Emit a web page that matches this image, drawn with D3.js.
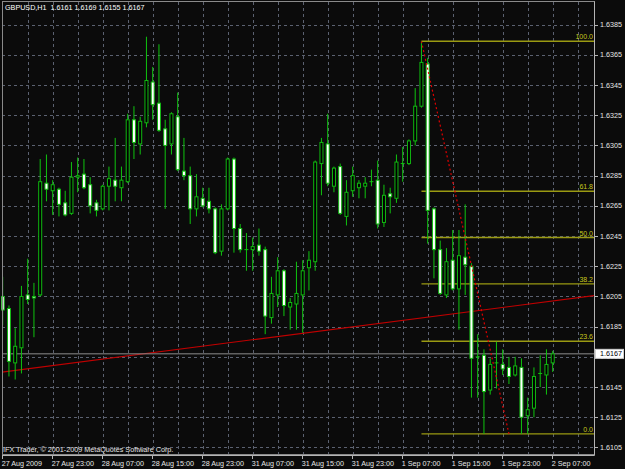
<!DOCTYPE html>
<meta charset="utf-8">
<script src="https://cdnjs.cloudflare.com/ajax/libs/d3/7.8.5/d3.min.js"></script>
<style>
body {
  margin: 0;
  background-color: #0b0b0b;
}
svg {
  display: block;
  font-family: "Liberation Sans", Arial, sans-serif;
}
</style>
<body>
<svg id="chart" width="625" height="469"></svg>
<script>

// GBPUSD H1, bars from 27 Aug 15:00 to 2 Sep 07:00
var opens = [1.6205,1.6197,1.6161,1.6171,1.6206,1.6205,1.6206,1.6280,1.6275,1.6276,
  1.6267,1.6260,1.6284,1.6286,1.6279,1.6267,1.6263,1.6278,1.6282,1.6277,
  1.6281,1.6322,1.6306,1.6320,1.6347,1.6333,1.6316,1.6306,1.6324,1.6288,
  1.6285,1.6263,1.6270,1.6268,1.6263,1.6235,1.6263,1.6296,1.6250,1.6236,
  1.6236,1.6239,1.6236,1.6191,1.6206,1.6222,1.6198,1.6200,1.6206,1.6224,
  1.6228,1.6293,1.6306,1.6278,1.6291,1.6258,1.6275,1.6277,1.6278,1.6281,
  1.6282,1.6254,1.6273,1.6270,1.6293,1.6293,1.6308,1.6331,1.6359,1.6263,
  1.6236,1.6206,1.6229,1.6210,1.6231,1.6225,1.6165,1.6166,1.6143,1.6161,
  1.6160,1.6158,1.6153,1.6158,1.6126,1.6131,1.6154,1.6153,1.6161];
var highs = [1.6218,1.6199,1.6184,1.6212,1.6230,1.6214,1.6296,1.6299,1.6282,1.6277,
  1.6275,1.6294,1.6297,1.6296,1.6284,1.6269,1.6279,1.6291,1.6310,1.6291,
  1.6326,1.6331,1.6324,1.6377,1.6357,1.6372,1.6322,1.6327,1.6340,1.6310,
  1.6291,1.6286,1.6277,1.6277,1.6264,1.6266,1.6297,1.6297,1.6253,1.6247,
  1.6244,1.6250,1.6238,1.6218,1.6231,1.6223,1.6204,1.6228,1.6229,1.6235,
  1.6295,1.6310,1.6326,1.6291,1.6293,1.6282,1.6291,1.6282,1.6284,1.6289,
  1.6295,1.6279,1.6277,1.6299,1.6304,1.6309,1.6343,1.6374,1.6363,1.6264,
  1.6242,1.6237,1.6249,1.6249,1.6266,1.6227,1.6180,1.6170,1.6164,1.6175,
  1.6170,1.6165,1.6165,1.6164,1.6138,1.6158,1.6166,1.6170,1.6169];
var lows = [1.6186,1.6152,1.6150,1.6154,1.6200,1.6178,1.6205,1.6268,1.6259,1.6258,
  1.6258,1.6259,1.6274,1.6276,1.6260,1.6258,1.6262,1.6262,1.6268,1.6268,
  1.6280,1.6296,1.6299,1.6317,1.6322,1.6314,1.6263,1.6299,1.6288,1.6282,
  1.6253,1.6258,1.6264,1.6260,1.6233,1.6232,1.6262,1.6234,1.6234,1.6222,
  1.6222,1.6232,1.6180,1.6187,1.6198,1.6192,1.6183,1.6183,1.6181,1.6209,
  1.6222,1.6272,1.6278,1.6274,1.6259,1.6252,1.6271,1.6270,1.6270,1.6278,
  1.6250,1.6251,1.6260,1.6267,1.6281,1.6292,1.6305,1.6330,1.6240,1.6217,
  1.6206,1.6204,1.6209,1.6183,1.6206,1.6138,1.6138,1.6114,1.6140,1.6144,
  1.6153,1.6147,1.6152,1.6114,1.6114,1.6125,1.6145,1.6140,1.6155];
var closes = [1.6196,1.6162,1.6172,1.6205,1.6203,1.6204,1.6281,1.6276,1.6279,1.6266,
  1.6259,1.6284,1.6285,1.6277,1.6265,1.6262,1.6278,1.6283,1.6278,1.6282,
  1.6322,1.6307,1.6321,1.6348,1.6332,1.6315,1.6305,1.6326,1.6289,1.6285,
  1.6263,1.6271,1.6265,1.6263,1.6234,1.6263,1.6296,1.6250,1.6236,1.6236,
  1.6238,1.6235,1.6192,1.6207,1.6222,1.6199,1.6201,1.6207,1.6222,1.6229,
  1.6294,1.6307,1.6280,1.6290,1.6260,1.6274,1.6285,1.6280,1.6280,1.6281,
  1.6253,1.6272,1.6271,1.6294,1.6293,1.6308,1.6331,1.6360,1.6262,1.6236,
  1.6207,1.6228,1.6210,1.6232,1.6226,1.6164,1.6165,1.6142,1.6160,1.6161,
  1.6157,1.6152,1.6159,1.6125,1.6130,1.6152,1.6154,1.6160,1.6167];

var priceTicks = [1.6385,1.6365,1.6345,1.6325,1.6305,1.6285,1.6265,1.6245,
  1.6225,1.6205,1.6185,1.6165,1.6145,1.6125,1.6105];
var timeBars = [0,8,16,24,32,40,48,56,64,72,80,88];
var timeLabels = ["27 Aug 2009","27 Aug 23:00","28 Aug 07:00","28 Aug 15:00",
  "28 Aug 23:00","31 Aug 07:00","31 Aug 15:00","31 Aug 23:00",
  "1 Sep 07:00","1 Sep 15:00","1 Sep 23:00","2 Sep 07:00"];

// fibonacci retracement, high of 1 Sep 06:00 down to the low
var fibBars = [67, 81];
var fibPrices = [1.6374, 1.6114];
var fibLevels = [0, 0.236, 0.382, 0.5, 0.618, 1];
var fibLabels = ["0.0", "23.6", "38.2", "50.0", "61.8", "100.0"];

// trend line
var trendBars = [0, 88];
var trendPrices = [1.6155, 1.6202];

var lastPrice = 1.6167;

// plot frame (px)
var fLeft = 2, fRight = 594, fTop = 2, fBottom = 455;

var svg = d3.select('#chart');

var x = d3.scaleLinear().domain([0, 88]).range([2.7, 552.7]);
var y = d3.scaleLinear().domain([1.6100, 1.6400]).range([fBottom, fTop]);

svg.append('rect')
  .attr('width', 625).attr('height', 469)
  .attr('fill', '#0b0b0b');

svg.append('clipPath').attr('id', 'plot')
  .append('rect')
  .attr('x', fLeft - 1).attr('y', fTop)
  .attr('width', fRight - fLeft + 1).attr('height', fBottom - fTop);

var plot = svg.append('g').attr('clip-path', 'url(#plot)');

// grid
var gridColor = '#5b6170';
plot.selectAll('.hgrid').data(priceTicks).enter().append('line')
  .attr('x1', fLeft).attr('x2', fRight)
  .attr('y1', function(d) { return Math.round(y(d)) + 0.5; })
  .attr('y2', function(d) { return Math.round(y(d)) + 0.5; })
  .attr('stroke', gridColor)
  .attr('stroke-dasharray', '3,3');

var vBars = d3.range(4, 95, 4);
plot.selectAll('.vgrid').data(vBars).enter().append('line')
  .attr('x1', function(d) { return Math.round(x(d)) + 0.5; })
  .attr('x2', function(d) { return Math.round(x(d)) + 0.5; })
  .attr('y1', fTop).attr('y2', fBottom)
  .attr('stroke', gridColor)
  .attr('stroke-dasharray', '3,3');

// trend line, extended to the right edge
var tSlope = (trendPrices[1] - trendPrices[0]) / (trendBars[1] - trendBars[0]);
var tStart = x.invert(fLeft), tEnd = x.invert(fRight);
plot.append('line')
  .attr('x1', x(tStart)).attr('y1', y(trendPrices[0] + tSlope * (tStart - trendBars[0])))
  .attr('x2', x(tEnd)).attr('y2', y(trendPrices[0] + tSlope * (tEnd - trendBars[0])))
  .attr('stroke', '#c00000')
  .attr('stroke-width', 1.2);

// fibo levels
var fibLow = fibPrices[1], fibRange = fibPrices[0] - fibPrices[1];
plot.selectAll('.fib').data(fibLevels).enter().append('line')
  .attr('x1', x(fibBars[0])).attr('x2', fRight)
  .attr('y1', function(d) { return y(fibLow + d * fibRange); })
  .attr('y2', function(d) { return y(fibLow + d * fibRange); })
  .attr('stroke', '#9a9a12')
  .attr('stroke-width', 1.4);

// current price line
plot.append('line')
  .attr('x1', fLeft).attr('x2', fRight)
  .attr('y1', y(lastPrice)).attr('y2', y(lastPrice))
  .attr('stroke', '#8c8c8c');

// candles
var bars = d3.range(opens.length);
var wickColor = '#0fc40f';
var bodyStroke = '#10b810';

plot.selectAll('.wick').data(bars).enter().append('line')
  .attr('x1', function(i) { return x(i); })
  .attr('x2', function(i) { return x(i); })
  .attr('y1', function(i) { return y(highs[i]); })
  .attr('y2', function(i) { return y(lows[i]); })
  .attr('stroke', wickColor);

plot.selectAll('.body').data(bars.filter(function(i) { return opens[i] != closes[i]; }))
  .enter().append('rect')
  .attr('x', function(i) { return x(i) - 1.5; })
  .attr('width', 3)
  .attr('y', function(i) { return y(Math.max(opens[i], closes[i])); })
  .attr('height', function(i) { return Math.abs(y(opens[i]) - y(closes[i])); })
  .attr('fill', function(i) { return closes[i] < opens[i] ? '#ffffff' : '#000000'; })
  .attr('stroke', bodyStroke);

plot.selectAll('.doji').data(bars.filter(function(i) { return opens[i] == closes[i]; }))
  .enter().append('line')
  .attr('x1', function(i) { return x(i) - 2; })
  .attr('x2', function(i) { return x(i) + 2; })
  .attr('y1', function(i) { return y(opens[i]); })
  .attr('y2', function(i) { return y(opens[i]); })
  .attr('stroke', wickColor);

// fibo anchor line
plot.append('line')
  .attr('x1', x(fibBars[0])).attr('y1', y(fibPrices[0]))
  .attr('x2', x(fibBars[1])).attr('y2', y(fibPrices[1]))
  .attr('stroke', '#e00000')
  .attr('stroke-width', 1.2)
  .attr('stroke-dasharray', '2,2.5');

svg.selectAll('.fiblabel').data(fibLevels).enter().append('text')
  .attr('x', fRight - 1)
  .attr('y', function(d) { return y(fibLow + d * fibRange) - 2; })
  .attr('text-anchor', 'end')
  .attr('fill', '#c8c81e')
  .attr('font-size', '7px')
  .text(function(d, i) { return fibLabels[i]; });

// frame
svg.append('rect')
  .attr('x', fLeft + 0.5).attr('y', fTop - 0.5)
  .attr('width', fRight - fLeft).attr('height', fBottom - fTop)
  .attr('fill', 'none')
  .attr('stroke', '#8a8a8a');
svg.append('path')
  .attr('d', 'M' + (fRight + 0.5) + ',' + (fTop - 0.5) + 'V' + (fBottom + 0.5) + 'H' + fLeft)
  .attr('fill', 'none')
  .attr('stroke', '#b4b4b4');

// price axis
svg.selectAll('.ptick').data(priceTicks).enter().append('line')
  .attr('x1', fRight).attr('x2', fRight + 4)
  .attr('y1', function(d) { return Math.round(y(d)) + 0.5; })
  .attr('y2', function(d) { return Math.round(y(d)) + 0.5; })
  .attr('stroke', '#b4b4b4');

svg.selectAll('.plabel').data(priceTicks).enter().append('text')
  .attr('x', fRight + 6)
  .attr('y', function(d) { return y(d) + 2.5; })
  .attr('fill', '#e6e6e6')
  .attr('font-size', '7.2px')
  .text(function(d) { return d.toFixed(4); });

// last price box
svg.append('rect')
  .attr('x', fRight + 1.5).attr('y', y(lastPrice) - 4.5)
  .attr('width', 28).attr('height', 9)
  .attr('fill', '#ffffff')
  .attr('stroke', '#d0d0d0');
svg.append('text')
  .attr('x', fRight + 6).attr('y', y(lastPrice) + 2.5)
  .attr('fill', '#000000')
  .attr('font-size', '7.2px')
  .text(lastPrice.toFixed(4));

// time axis
svg.selectAll('.ttick').data(timeBars).enter().append('line')
  .attr('x1', function(d) { return Math.round(x(d)) - 0.5; })
  .attr('x2', function(d) { return Math.round(x(d)) - 0.5; })
  .attr('y1', fBottom).attr('y2', fBottom + 4)
  .attr('stroke', '#b4b4b4');

svg.selectAll('.tlabel').data(timeBars).enter().append('text')
  .attr('x', function(d) { return x(d) - 1; })
  .attr('y', 466)
  .attr('fill', '#e6e6e6')
  .attr('font-size', '7.2px')
  .text(function(d, i) { return timeLabels[i]; });

// header and copyright
svg.append('text')
  .attr('x', 5).attr('y', 10)
  .attr('fill', '#ffffff')
  .attr('font-size', '7.2px')
  .style('white-space', 'pre')
  .text('GBPUSD,H1  1.6161 1.6169 1.6155 1.6167');

svg.append('text')
  .attr('x', 3).attr('y', 452)
  .attr('fill', '#e6e6e6')
  .attr('font-size', '7.2px')
  .text('IFX Trader, \u00a9 2001-2009 MetaQuotes Software Corp.');

</script>
</body>
